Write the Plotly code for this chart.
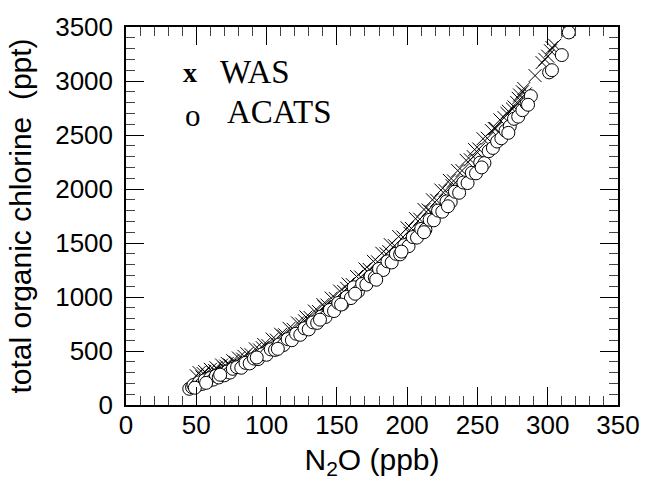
import plotly.graph_objects as go

# WAS whole-air-sampler measurements: N2O (ppb) vs total organic chlorine (ppt)
was_n2o = [50, 52, 54, 56, 58, 60, 62, 64, 66, 68, 70, 72, 74, 76, 78, 80, 83, 86, 89, 92,
           95, 98, 101, 104, 107, 110, 113, 116, 119, 122, 125, 128, 131, 134, 137, 140, 143,
           146, 149, 152, 155, 158, 161, 164, 167, 170, 173, 176, 179, 182, 185, 188, 191,
           194, 197, 200, 203, 206, 209, 212, 215, 218, 221, 224, 227, 230, 233, 236, 239,
           242, 245, 248, 251, 254, 257, 260, 263, 266, 269, 272, 275, 276, 278, 279, 280,
           282, 283, 284, 291, 296, 298, 300, 302, 303, 305, 314,
           55, 63, 71, 84, 97, 112, 127, 141, 157, 172, 187, 202, 217, 232, 247, 262, 271]
was_tocl = [270, 300, 260, 310, 280, 330, 300, 345, 320, 370, 345, 385, 370, 410, 395, 435,
            425, 475, 465, 520, 510, 560, 550, 610, 600, 655, 650, 710, 700, 760, 750, 815,
            810, 870, 865, 930, 925, 990, 985, 1055, 1050, 1120, 1115, 1190, 1185, 1260, 1255,
            1330, 1325, 1405, 1400, 1485, 1475, 1560, 1555, 1640, 1635, 1725, 1720, 1810, 1805,
            1900, 1895, 1990, 1985, 2080, 2075, 2170, 2170, 2265, 2270, 2365, 2370, 2465, 2470,
            2540, 2560, 2640, 2660, 2720, 2740, 2760, 2800, 2840, 2870, 2900, 2930, 2880, 3050,
            3170, 3200, 3230, 3280, 3310, 3330, 3460,
            290, 320, 360, 450, 530, 640, 780, 910, 1080, 1230, 1420, 1590, 1790, 2030, 2300,
            2560, 2700]

# ACATS in-situ chromatograph measurements
acats_n2o = [45, 47, 48, 50, 52, 54, 56, 58, 60, 62, 64, 66, 68, 70, 72, 74, 76, 79, 82, 85,
             88, 91, 94, 97, 100, 103, 106, 109, 112, 115, 118, 121, 124, 127, 130, 133, 136,
             139, 142, 145, 148, 151, 154, 157, 160, 162, 165, 168, 171, 174, 177, 180, 183,
             186, 189, 192, 195, 198, 201, 204, 207, 210, 213, 216, 219, 222, 225, 228, 231,
             234, 237, 240, 243, 246, 249, 252, 255, 258, 261, 264, 267, 270, 273, 276, 279,
             282, 285, 288, 301, 303, 310, 315,
             49, 57, 67, 93, 108, 138, 153, 163, 178, 196, 212, 229, 253, 272, 286]
acats_tocl = [150, 165, 185, 175, 210, 195, 230, 215, 250, 235, 270, 255, 290, 275, 310, 300,
              335, 350, 345, 390, 385, 430, 425, 470, 465, 515, 510, 560, 555, 610, 600, 660,
              650, 710, 700, 765, 760, 820, 815, 880, 870, 945, 935, 1000, 990, 1090, 1050,
              1120, 1115, 1190, 1180, 1260, 1250, 1330, 1320, 1400, 1395, 1480, 1470, 1555,
              1550, 1630, 1625, 1715, 1710, 1800, 1790, 1885, 1880, 1975, 1965, 2060, 2055,
              2150, 2145, 2245, 2240, 2350, 2380, 2440, 2470, 2540, 2580, 2650, 2670, 2730,
              2790, 2860, 3080, 3100, 3240, 3450,
              160, 205, 280, 440, 520, 790, 930, 1030, 1160, 1420, 1600, 1840, 2200, 2520, 2780]

SANS = "Liberation Sans, Arial, sans-serif"
SERIF = "Liberation Serif, Times New Roman, serif"
TICK_FONT = dict(family=SANS, size=26, color="black")
TITLE_FONT = dict(family=SANS, size=30, color="black")

fig = go.Figure()

fig.add_trace(go.Scatter(
    x=was_n2o, y=was_tocl, mode="markers", name="WAS",
    marker=dict(symbol="x-thin-open", size=13, color="black",
                line=dict(color="black", width=1)),
))
fig.add_trace(go.Scatter(
    x=acats_n2o, y=acats_tocl, mode="markers", name="ACATS",
    marker=dict(symbol="circle", size=13, color="white",
                line=dict(color="black", width=1)),
))

axis_common = dict(
    showgrid=False, zeroline=False, showline=True, linecolor="black", linewidth=1.5,
    mirror="allticks", ticks="inside", ticklen=18, tickwidth=1, tickcolor="black",
    tickfont=TICK_FONT,
)
minor_ticks = dict(ticks="inside", ticklen=9, tickwidth=1, tickcolor="#444444")

fig.update_xaxes(
    range=[0, 350], tickvals=[0, 50, 100, 150, 200, 250, 300, 350],
    minor=dict(dtick=10, **minor_ticks),
    ticklabeloverflow="allow",
    ticklabelstandoff=-4,
    title=dict(text="N<sub>2</sub>O (ppb)", font=TITLE_FONT, standoff=10),
    **axis_common,
)
fig.update_yaxes(
    range=[0, 3500], tickvals=[0, 500, 1000, 1500, 2000, 2500, 3000, 3500],
    minor=dict(dtick=100, **minor_ticks),
    title=dict(text="total organic chlorine  (ppt)", font=TITLE_FONT, standoff=15),
    ticklabelstandoff=6,
    **axis_common,
)

# in-plot key drawn as text
fig.add_annotation(x=0.111, y=0.925, xref="paper", yref="paper", text="<b>x</b>",
                   showarrow=False, font=dict(family=SERIF, size=28, color="black"))
fig.add_annotation(x=0.187, y=0.934, xref="paper", yref="paper", text="WAS",
                   xanchor="left", showarrow=False,
                   font=dict(family=SERIF, size=33, color="black"))
fig.add_annotation(x=0.116, y=0.818, xref="paper", yref="paper", text="o",
                   showarrow=False, font=dict(family=SERIF, size=31, color="black"))
fig.add_annotation(x=0.201, y=0.828, xref="paper", yref="paper", text="ACATS",
                   xanchor="left", showarrow=False,
                   font=dict(family=SERIF, size=33, color="black"))

fig.update_layout(
    width=652, height=483,
    margin=dict(l=126, r=23, t=27, b=78),
    paper_bgcolor="white", plot_bgcolor="white",
    showlegend=False,
)

fig.write_html("out.html")
